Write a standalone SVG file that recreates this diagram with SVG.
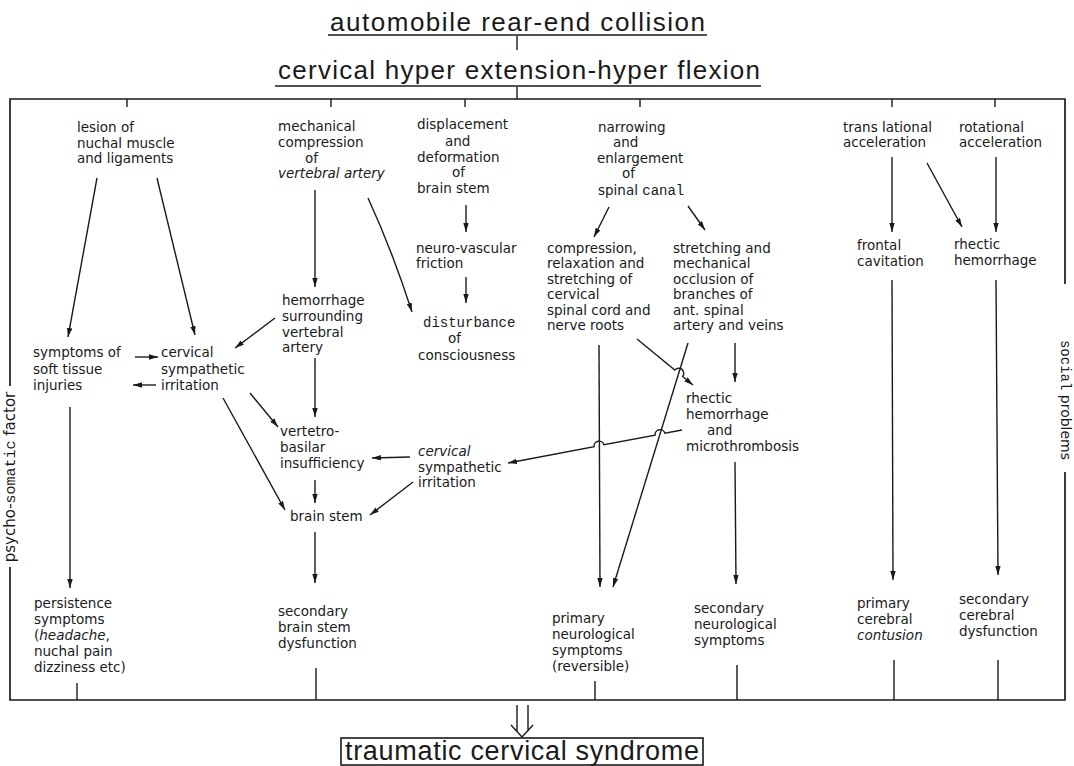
<svg xmlns="http://www.w3.org/2000/svg" width="1074" height="766" viewBox="0 0 1074 766">
<style>
text{font-family:"DejaVu Sans","Noto Sans",sans-serif;font-size:13.5px;fill:#1a1a1a}
.t{font-family:"Liberation Sans",Arial,sans-serif;font-size:26px}
.b{font-family:"Liberation Sans",Arial,sans-serif;font-size:27px}
.m{font-family:"Liberation Mono","DejaVu Sans Mono",monospace;font-size:14px}
.i{font-style:italic}
.ln{stroke:#1a1a1a;stroke-width:1.4;fill:none}
.ar{stroke:#1a1a1a;stroke-width:1.4;fill:none;marker-end:url(#ah)}
.fr{stroke:#1a1a1a;stroke-width:1.7;fill:none}
</style>
<defs>
<marker id="ah" viewBox="0 0 10 6" refX="10" refY="3" markerWidth="9" markerHeight="5.4" markerUnits="userSpaceOnUse" orient="auto"><path d="M0,0 L10,3 L0,6 z" fill="#1a1a1a"/></marker>
</defs>
<rect width="1074" height="766" fill="#fff"/>

<g id="title1"><text class="t" x="330" y="31" textLength="375" lengthAdjust="spacing">automobile rear-end collision</text><path class="ln" d="M328 35 H707"/></g>
<g id="title2"><text class="t" x="278" y="79" textLength="482" lengthAdjust="spacing">cervical hyper extension-hyper flexion</text><path class="ln" d="M275 86 H761"/></g>

<g id="frame">
<path class="fr" d="M10 386 V99 H1065 V284"/>
<path class="fr" d="M1065 472 V700 H10 V567"/>
<text transform="translate(14.5,477) rotate(-90)" text-anchor="middle" style="font-size:15px">psycho-<tspan class="m" style="font-size:15px">somatic</tspan> factor</text>
<text transform="translate(1061,400) rotate(90)" text-anchor="middle" style="font-size:14px"><tspan class="m">social</tspan> problems</text>
</g>

<g id="lesion"><text><tspan x="77" y="132">lesion of</tspan><tspan x="77" y="147.5">nuchal muscle</tspan><tspan x="77" y="163">and ligaments</tspan></text></g>
<g id="mechanical"><text><tspan x="278" y="131">mechanical</tspan><tspan x="278" y="147">compression</tspan><tspan x="305" y="163">of</tspan><tspan x="278" y="178" class="i">vertebral artery</tspan></text></g>
<g id="displacement"><text><tspan x="417" y="129">displacement</tspan><tspan x="445" y="146">and</tspan><tspan x="417" y="162">deformation</tspan><tspan x="452" y="177">of</tspan><tspan x="417" y="193">brain stem</tspan></text></g>
<g id="narrowing"><text><tspan x="598" y="132">narrowing</tspan><tspan x="613" y="147">and</tspan><tspan x="597" y="163">enlargement</tspan><tspan x="622" y="178">of</tspan><tspan x="598" y="195">spinal <tspan class="m">canal</tspan></tspan></text></g>
<g id="translational"><text><tspan x="843" y="132">trans lational</tspan><tspan x="843" y="147">acceleration</tspan></text></g>
<g id="rotational"><text><tspan x="959" y="132">rotational</tspan><tspan x="959" y="147">acceleration</tspan></text></g>
<g id="friction"><text><tspan x="416" y="253">neuro-vascular</tspan><tspan x="416" y="268">friction</tspan></text></g>
<g id="compression"><text><tspan x="547" y="253">compression,</tspan><tspan x="547" y="268">relaxation and</tspan><tspan x="547" y="284">stretching of</tspan><tspan x="547" y="299">cervical</tspan><tspan x="547" y="315">spinal cord and</tspan><tspan x="547" y="330">nerve roots</tspan></text></g>
<g id="stretching"><text><tspan x="673" y="253">stretching and</tspan><tspan x="673" y="268">mechanical</tspan><tspan x="673" y="284">occlusion of</tspan><tspan x="673" y="299">branches of</tspan><tspan x="673" y="315">ant. spinal</tspan><tspan x="673" y="330">artery and veins</tspan></text></g>
<g id="frontal"><text><tspan x="857" y="250">frontal</tspan><tspan x="857" y="266">cavitation</tspan></text></g>
<g id="rhectic1"><text><tspan x="954" y="249">rhectic</tspan><tspan x="954" y="265">hemorrhage</tspan></text></g>
<g id="hemorrhage"><text><tspan x="282" y="305">hemorrhage</tspan><tspan x="282" y="321">surrounding</tspan><tspan x="282" y="337">vertebral</tspan><tspan x="282" y="352">artery</tspan></text></g>
<g id="disturbance"><text><tspan x="423" y="327" class="m">disturbance</tspan><tspan x="448" y="343">of</tspan><tspan x="418" y="360">consciousness</tspan></text></g>
<g id="softtissue"><text><tspan x="33" y="357">symptoms of</tspan><tspan x="33" y="374">soft tissue</tspan><tspan x="33" y="390">injuries</tspan></text></g>
<g id="sympathetic1"><text><tspan x="161" y="357">cervical</tspan><tspan x="161" y="374">sympathetic</tspan><tspan x="161" y="390">irritation</tspan></text></g>
<g id="vertetro"><text><tspan x="280" y="436">vertetro-</tspan><tspan x="280" y="452">basilar</tspan><tspan x="280" y="468">insufficiency</tspan></text></g>
<g id="brainstem"><text x="290" y="521">brain stem</text></g>
<g id="sympathetic2"><text><tspan x="418" y="456" class="i">cervical</tspan><tspan x="418" y="472">sympathetic</tspan><tspan x="418" y="487">irritation</tspan></text></g>
<g id="rhectic2"><text><tspan x="686" y="403">rhectic</tspan><tspan x="686" y="419">hemorrhage</tspan><tspan x="707" y="435">and</tspan><tspan x="686" y="451">microthrombosis</tspan></text></g>
<g id="persistence"><text><tspan x="34" y="608">persistence</tspan><tspan x="34" y="624">symptoms</tspan><tspan x="34" y="640">(<tspan class="i">headache</tspan>,</tspan><tspan x="34" y="656">nuchal pain</tspan><tspan x="34" y="672">dizziness etc)</tspan></text></g>
<g id="secbrain"><text><tspan x="278" y="616">secondary</tspan><tspan x="278" y="632">brain stem</tspan><tspan x="278" y="648">dysfunction</tspan></text></g>
<g id="primneuro"><text><tspan x="552" y="623">primary</tspan><tspan x="552" y="639">neurological</tspan><tspan x="552" y="655">symptoms</tspan><tspan x="552" y="671">(reversible)</tspan></text></g>
<g id="secneuro"><text><tspan x="694" y="613">secondary</tspan><tspan x="694" y="629">neurological</tspan><tspan x="694" y="645">symptoms</tspan></text></g>
<g id="primcereb"><text><tspan x="857" y="608">primary</tspan><tspan x="857" y="624">cerebral</tspan><tspan x="857" y="640" class="i">contusion</tspan></text></g>
<g id="seccereb"><text><tspan x="959" y="604">secondary</tspan><tspan x="959" y="620">cerebral</tspan><tspan x="959" y="636">dysfunction</tspan></text></g>
<g id="syndrome"><rect x="341" y="738" width="362" height="27" fill="none" stroke="#1a1a1a" stroke-width="1.6"/><text class="b" x="345" y="760" textLength="354" lengthAdjust="spacing">traumatic cervical syndrome</text></g>

<g id="connectors">
<path class="ln" d="M517 36 V50 M517 87 V99"/>
<path class="ln" d="M127 99 V107 M331 99 V107 M465 99 V107 M640 99 V107 M892 99 V107 M995 99 V107"/>
<path class="ln" d="M77 683 V700 M316 668 V700 M595 681 V700 M737 665 V700 M894 660 V700 M998 660 V700"/>
<path class="ar" d="M97 178 L68 337"/>
<path class="ar" d="M157 178 L195 335"/>
<path class="ar" d="M315 190 V287"/>
<path class="ar" d="M368 198 Q392 250 412 312"/>
<path class="ar" d="M466 205 V232"/>
<path class="ar" d="M466 277 V303"/>
<path class="ar" d="M609 207 L594 237"/>
<path class="ar" d="M688 206 L705 230"/>
<path class="ar" d="M892 157 V232"/>
<path class="ar" d="M927 163 L962 227"/>
<path class="ar" d="M996 157 V232"/>
<path class="ar" d="M275 318 L235 348"/>
<path class="ar" d="M315 358 V417"/>
<path class="ar" d="M135 357 H158"/>
<path class="ar" d="M156 385 H133"/>
<path class="ar" d="M250 393 L278 427"/>
<path class="ar" d="M223 398 L285 510"/>
<path class="ar" d="M315 480 V503"/>
<path class="ar" d="M410 457 L372 458"/>
<path class="ar" d="M413 482 L370 515"/>
<path class="ar" d="M315 532 V583"/>
<path class="ar" d="M70 407 V588"/>
<path class="ar" d="M599 345 L600 587"/>
<path class="ar" d="M688 343 L613 587"/>
<path class="ar" d="M637 339 L674.8 370.1 A5 5 0 0 1 682.6 376.5 L693 385"/>
<path class="ar" d="M735 343 V382"/>
<path class="ar" d="M735 462 L736 584"/>
<path class="ar" d="M682 430 L664.9 433.3 A5 5 0 0 0 655.1 435.1 L603.9 444.8 A5 5 0 0 0 594.1 446.6 L508 463"/>
<path class="ar" d="M892 280 L893 580"/>
<path class="ar" d="M996 280 L998 575"/>
<path class="ln" d="M517 705 V731 M528 705 V731 M511 725 L522 737 L533 725"/>
</g>
</svg>
